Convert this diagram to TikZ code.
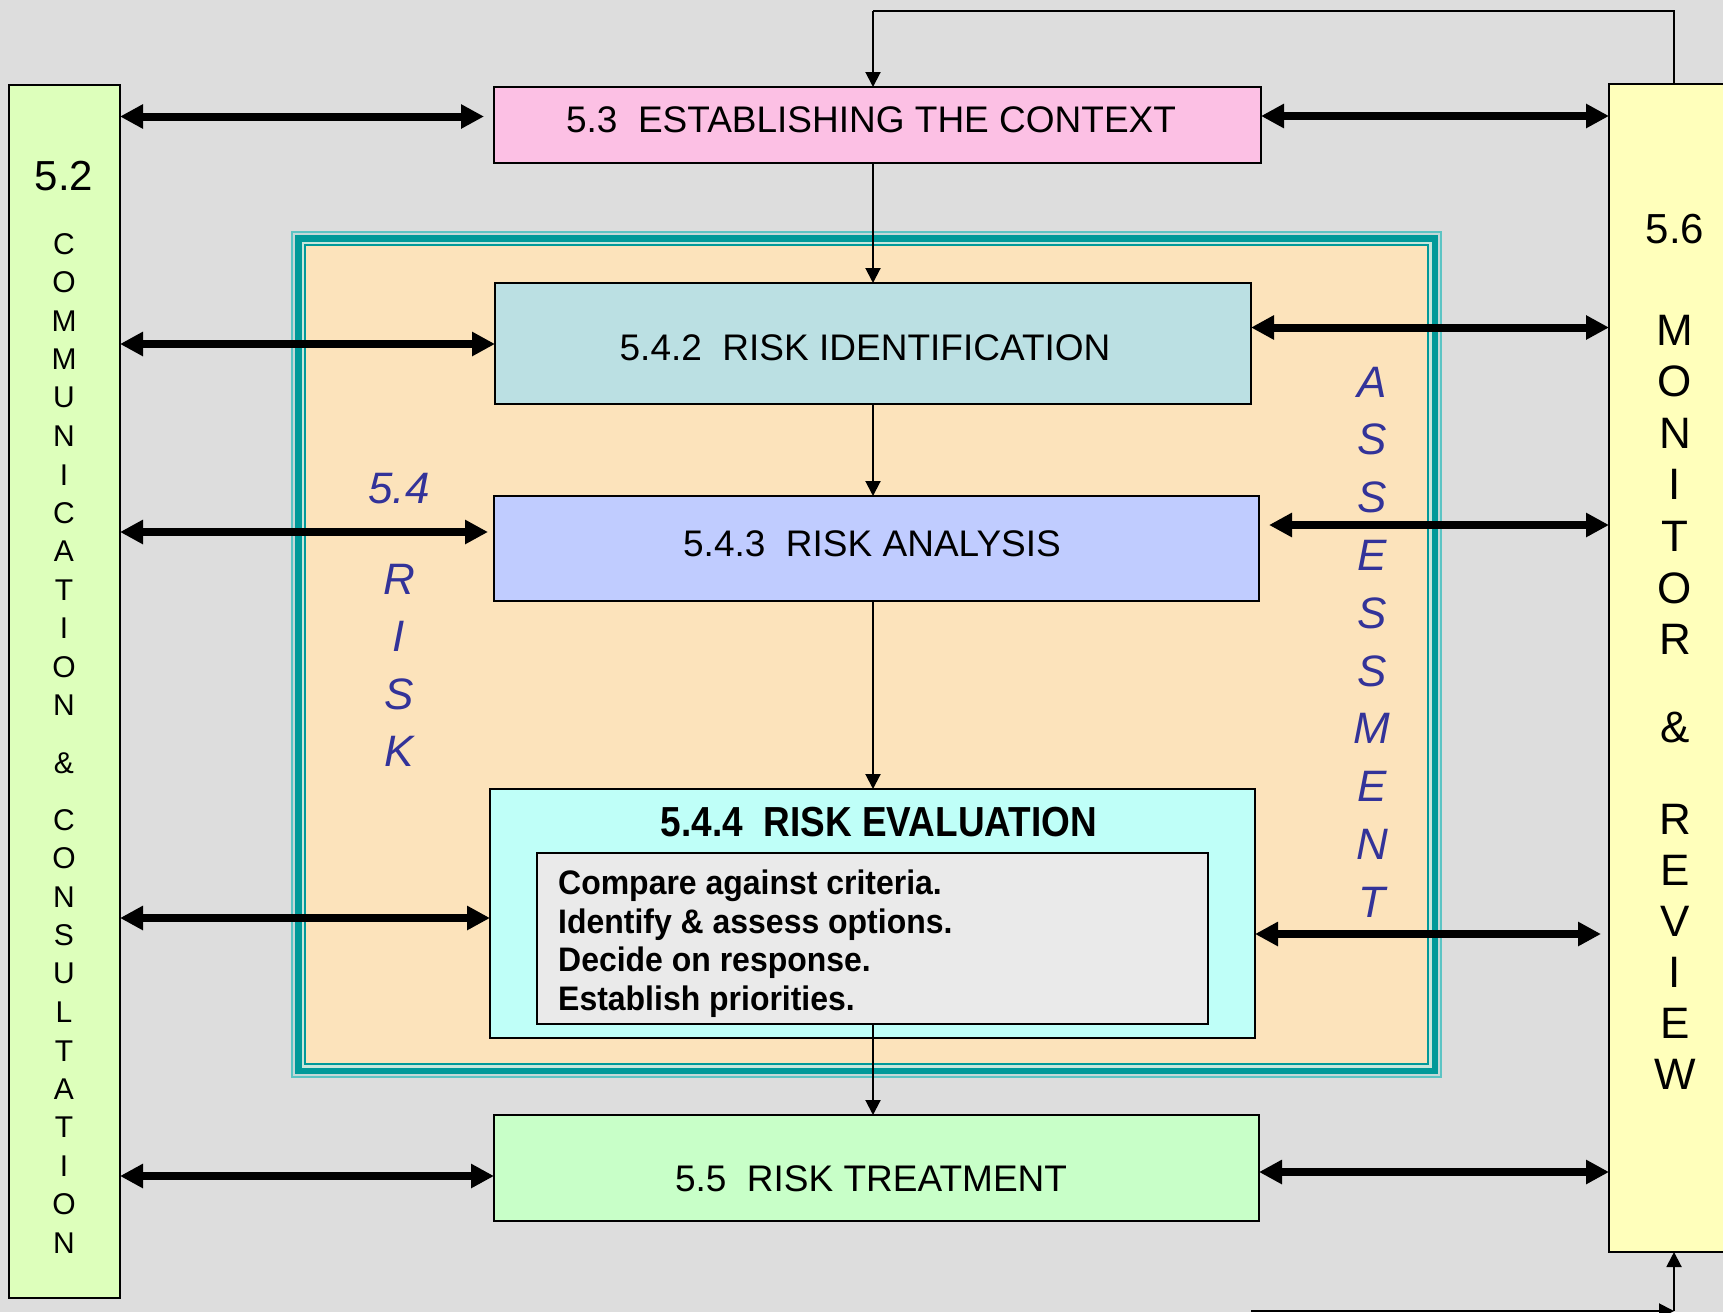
\documentclass[tikz,border=0pt]{standalone}
\usepackage{fontspec}
\setmainfont{Liberation Sans}
\newfontfamily\condfont[FakeStretch=0.88]{Liberation Sans}
\newfontfamily\listfont[FakeStretch=0.94]{Liberation Sans}
\usetikzlibrary{arrows.meta}
\definecolor{bg}{HTML}{DDDDDD}
\definecolor{commc}{HTML}{DDFFBB}
\definecolor{monc}{HTML}{FFFFBB}
\definecolor{ctxc}{HTML}{FCC0E4}
\definecolor{identc}{HTML}{BBE0E3}
\definecolor{analc}{HTML}{C0CCFF}
\definecolor{evalc}{HTML}{BFFFF8}
\definecolor{innerc}{HTML}{EAEAEA}
\definecolor{treatc}{HTML}{C8FFC8}
\definecolor{orng}{HTML}{FCE3BB}
\definecolor{tealc}{HTML}{009999}
\definecolor{ltteal}{HTML}{5CC4C4}
\definecolor{grayteal}{HTML}{C4D8D8}
\definecolor{paleband}{HTML}{C8E6DC}
\definecolor{bluetxt}{HTML}{333399}
\begin{document}
\begin{tikzpicture}[x=1pt,y=-1pt,
  box/.style={draw=black,line width=2.4pt,inner sep=0pt,outer sep=0pt,anchor=north west},
  lbl/.style={font=\fontsize{37}{40}\selectfont,anchor=base,inner sep=0pt},
  colL/.style={inner sep=0pt,font=\fontsize{30}{32}\selectfont},
  colR/.style={inner sep=0pt,font=\fontsize{44}{46}\selectfont},
  num/.style={inner sep=0pt,font=\fontsize{42}{44}\selectfont},
  blu/.style={inner sep=0pt,text=bluetxt,font=\fontsize{44}{46}\selectfont\itshape},
  lst/.style={inner sep=0pt,anchor=base west,font=\listfont\bfseries\fontsize{34}{38}\selectfont},
  big/.style={line width=8pt,{Triangle[length=23pt,width=23pt]}-{Triangle[length=23pt,width=23pt]}},
  thin/.style={line width=2pt,-{Triangle[length=15pt,width=15pt]}},
]
\useasboundingbox (0,0) rectangle (1723,1312);
\clip (0,0) rectangle (1723,1312);
\fill[bg] (0,0) rectangle (1723,1312);

% risk assessment frame
\fill[ltteal] (291,231) rectangle (1442,1078);
\fill[grayteal] (293,233) rectangle (1440,1076);
\fill[tealc] (295,235) rectangle (1438,1073.5);
\fill[paleband] (301.5,241.5) rectangle (1431.7,1067.7);
\fill[tealc] (304,244) rectangle (1429.3,1065);
\fill[orng] (306,246) rectangle (1427,1063);

% side boxes
\node[box,fill=commc,minimum width=111pt,minimum height=1213pt] (comm) at (9,85) {};
\node[box,fill=monc,minimum width=180pt,minimum height=1168pt] (mon) at (1609,84) {};

% main boxes
\node[box,fill=ctxc,minimum width=767pt,minimum height=76pt] (ctx) at (494,87) {};
\node[box,fill=identc,minimum width=756pt,minimum height=121pt] (ident) at (495,283) {};
\node[box,fill=analc,minimum width=765pt,minimum height=105pt] (anal) at (494,496) {};
\node[box,fill=evalc,minimum width=765pt,minimum height=249pt] (eval) at (490,789) {};
\node[box,fill=innerc,minimum width=671pt,minimum height=171pt] (inner) at (537,853) {};
\node[box,fill=treatc,minimum width=765pt,minimum height=106pt] (treat) at (494,1115) {};

% box texts
\node[lbl] (tctx) at (871,132) {5.3\ \ ESTABLISHING THE CONTEXT};
\node[lbl] (tident) at (865,360) {5.4.2\ \ RISK IDENTIFICATION};
\node[lbl] (tanal) at (872,556) {5.4.3\ \ RISK ANALYSIS};
\node[lbl] (ttreat) at (871,1191) {5.5\ \ RISK TREATMENT};
\node[inner sep=0pt,anchor=base,font=\condfont\bfseries\fontsize{42}{44}\selectfont] (teval) at (879,836) {5.4.4\ \ RISK EVALUATION};
\node[lst] (l1) at (558,894) {Compare against criteria.};
\node[lst] (l2) at (558,933) {Identify \& assess options.};
\node[lst] (l3) at (558,971) {Decide on response.};
\node[lst] (l4) at (558,1010) {Establish priorities.};

% left column text
\node[num] (n52) at (64,176) {5.2};
\foreach \ch [count=\i from 0] in {C,O,M,M,U,N,I,C,A,T,I,O,N}
  \node[colL] (ca\i) at (64,244+38.45*\i) {\ch};
\node[colL] (camp) at (64,763) {\&};
\foreach \ch [count=\i from 0] in {C,O,N,S,U,L,T,A,T,I,O,N}
  \node[colL] (cb\i) at (64,820+38.45*\i) {\ch};

% right column text
\node[num] (n56) at (1675,229) {5.6};
\foreach \ch [count=\i from 0] in {M,O,N,I,T,O,R}
  \node[colR] (ma\i) at (1675,330+51.6*\i) {\ch};
\node[colR] (mamp) at (1675,727.5) {\&};
\foreach \ch [count=\i from 0] in {R,E,V,I,E,W}
  \node[colR] (mb\i) at (1675,819+51*\i) {\ch};

% risk assessment labels
\node[blu] (n54) at (399,489) {5.4};
\foreach \ch [count=\i from 0] in {R,I,S,K}
  \node[blu] (rk\i) at (399,579+57.6*\i) {\ch};
\foreach \ch [count=\i from 0] in {A,S,S,E,S,S,M,E,N,T}
  \node[blu] (as\i) at (1372,382+57.8*\i) {\ch};

% thin flow arrows
\coordinate (t1) at (1674,11);
\draw[line width=2pt] (mon.north -| t1) -- (t1) -- (t1 -| ident.north);
\draw[thin] (t1 -| ident.north) -- (ident.north |- ctx.north);
\draw[thin] (ctx.south -| ident.north) -- (ident.north);
\draw[thin] (ident.south) -- (ident.south |- anal.north);
\draw[thin] (anal.south -| ident.south) -- (ident.south |- eval.north);
\draw[thin] (inner.south -| ident.south) -- (ident.south |- treat.north);
\coordinate (b0) at (1251,1311);
\coordinate (b1) at (1674,1311);
\draw[thin] (b0) -- (b1);
\draw[thin] (b1) -- (b1 |- mon.south);

% left thick arrows
\draw[big] (comm.east |- 0,116.5) -- (484,116.5);
\draw[big] (comm.east |- 0,344) -- (ident.west |- 0,344);
\draw[big] (comm.east |- 0,532) -- (488,532);
\draw[big] (comm.east |- 0,918) -- (eval.west |- 0,918);
\draw[big] (comm.east |- 0,1176) -- (treat.west |- 0,1176);

% right thick arrows
\draw[big] (ctx.east |- 0,116) -- (mon.west |- 0,116);
\draw[big] (ident.east |- 0,327.5) -- (mon.west |- 0,327.5);
\draw[big] (1269,525) -- (mon.west |- 0,525);
\draw[big] (eval.east |- 0,934) -- (1601,934);
\draw[big] (treat.east |- 0,1172) -- (mon.west |- 0,1172);
\end{tikzpicture}
\end{document}
